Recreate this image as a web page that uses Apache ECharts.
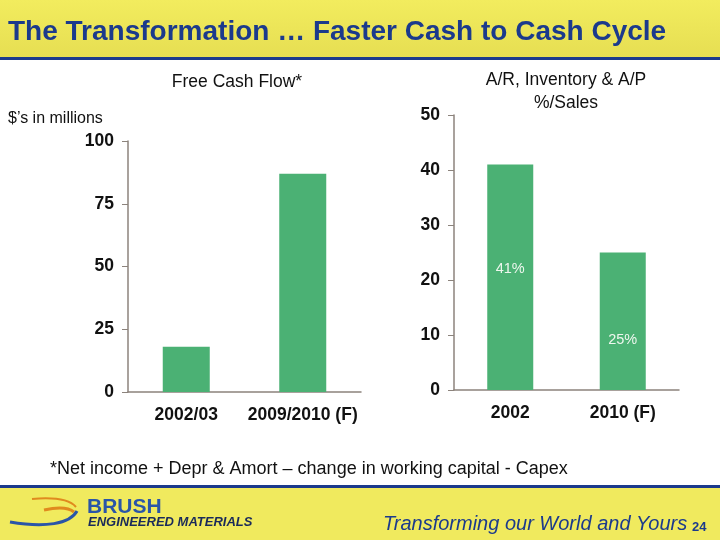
<!DOCTYPE html>
<html>
<head>
<meta charset="utf-8">
<script src="https://cdn.jsdelivr.net/npm/echarts@6/dist/echarts.min.js"></script>
<style>
  html, body { margin: 0; padding: 0; background: #fff; }
  #main { width: 720px; height: 540px; }
</style>
</head>
<body>
<div id="main"></div>
<script>
// Free Cash Flow ($ millions)
var fcfCategories = ['2002/03', '2009/2010 (F)'];
var fcfValues = [18, 87];
// A/R, Inventory & A/P as % of sales
var wcCategories = ['2002', '2010 (F)'];
var wcValues = [41, 25];
var wcLabels = ['41%', '25%'];

var barColor = '#4BB174';
var axisColor = '#8C837C';
var navy = '#1B3A8C';
var font = 'Arial, "Liberation Sans", sans-serif';

var chart = echarts.init(document.getElementById('main'));

function catAxis(idx, data) {
  return {
    type: 'category', gridIndex: idx, data: data,
    axisLine: { lineStyle: { color: axisColor, width: 1.5 } },
    axisTick: { length: 6, lineStyle: { color: axisColor } },
    axisLabel: { interval: 0, hideOverlap: false, color: '#111', fontSize: 17.5,
      fontFamily: font, fontWeight: 'bold', margin: 14 }
  };
}
function valAxis(idx, max, step) {
  return {
    type: 'value', gridIndex: idx, min: 0, max: max, interval: step,
    splitLine: { show: false },
    axisLine: { show: true, lineStyle: { color: axisColor, width: 1.5 } },
    axisTick: { show: true, length: 6, lineStyle: { color: axisColor } },
    axisLabel: { color: '#111', fontSize: 17.5, fontFamily: font, fontWeight: 'bold', margin: 14 }
  };
}

var option = {
  backgroundColor: '#fff',
  animation: false,
  textStyle: { fontFamily: font },
  graphic: [
    // top band
    { type: 'rect', shape: { x: 0, y: 0, width: 720, height: 58 }, silent: true,
      style: { fill: new echarts.graphic.LinearGradient(0, 0, 0, 1, [
        { offset: 0, color: '#F2EC5E' }, { offset: 1, color: '#E6DE52' }]) } },
    { type: 'rect', shape: { x: 0, y: 57, width: 720, height: 3 }, style: { fill: navy } },
    { type: 'text', x: 8, y: 32, style: { text: 'The Transformation \u2026 Faster Cash to Cash Cycle',
      fill: navy, font: 'bold 28px ' + font, verticalAlign: 'middle' } },
    // bottom band
    { type: 'rect', shape: { x: 0, y: 486, width: 720, height: 54 }, silent: true,
      style: { fill: '#F0EA5E' } },
    { type: 'rect', shape: { x: 0, y: 485, width: 720, height: 3 }, style: { fill: navy } },
    // logo swoosh
    { type: 'bezierCurve', shape: { x1: 32, y1: 499, x2: 76, y2: 507, cpx1: 55, cpy1: 497, cpx2: 70, cpy2: 500 },
      style: { stroke: '#E08A1E', lineWidth: 2, fill: null } },
    { type: 'bezierCurve', shape: { x1: 44, y1: 510, x2: 74, y2: 512, cpx1: 58, cpy1: 507, cpx2: 68, cpy2: 507 },
      style: { stroke: '#E08A1E', lineWidth: 3, fill: null } },
    { type: 'bezierCurve', shape: { x1: 10, y1: 522, x2: 77, y2: 511, cpx1: 45, cpy1: 528, cpx2: 70, cpy2: 524 },
      style: { stroke: '#2A55A8', lineWidth: 3, fill: null } },
    { type: 'text', x: 87, y: 497, style: { text: 'BRUSH', fill: '#2A55A8', font: 'bold 21px ' + font } },
    { type: 'text', x: 88, y: 516, style: { text: 'ENGINEERED MATERIALS', fill: '#1a2a5a',
      font: 'italic bold 13px ' + font } },
    { type: 'text', x: 383, y: 524, style: { text: 'Transforming our World and Yours',
      fill: navy, font: 'italic 20px ' + font, verticalAlign: 'middle' } },
    { type: 'text', x: 692, y: 527, style: { text: '24', fill: navy, font: 'bold 13px ' + font,
      verticalAlign: 'middle' } },
    // texts
    { type: 'text', x: 237, y: 82, style: { text: 'Free Cash Flow*', fill: '#111', font: '17.5px ' + font,
      align: 'center', verticalAlign: 'middle' } },
    { type: 'text', x: 8, y: 119, style: { text: '$\u2019s in millions', fill: '#111', font: '16px ' + font,
      verticalAlign: 'middle' } },
    { type: 'text', x: 566, y: 80, style: { text: 'A/R, Inventory & A/P', fill: '#111',
      font: '17.5px ' + font, align: 'center', verticalAlign: 'middle' } },
    { type: 'text', x: 566, y: 103, style: { text: '%/Sales', fill: '#111',
      font: '17.5px ' + font, align: 'center', verticalAlign: 'middle' } },
    { type: 'text', x: 50, y: 469, style: { text: '*Net income + Depr & Amort \u2013 change in working capital - Capex',
      fill: '#111', font: '18px ' + font, verticalAlign: 'middle' } }
  ],
  grid: [
    { left: 128, top: 141, width: 233, height: 251 },
    { left: 454, top: 115, width: 225, height: 275 }
  ],
  xAxis: [catAxis(0, fcfCategories), catAxis(1, wcCategories)],
  yAxis: [valAxis(0, 100, 25), valAxis(1, 50, 10)],
  series: [
    { type: 'bar', xAxisIndex: 0, yAxisIndex: 0, data: fcfValues, barWidth: 47,
      itemStyle: { color: barColor } },
    { type: 'bar', xAxisIndex: 1, yAxisIndex: 1, barWidth: 46,
      itemStyle: { color: barColor },
      data: wcValues.map(function (v, i) {
        return { value: v, label: { show: true, position: 'inside', formatter: wcLabels[i],
          offset: [0, i === 0 ? -8 : 19], color: '#EEF7EE', fontSize: 14.5, fontFamily: font } };
      }) }
  ]
};

chart.setOption(option);
</script>
</body>
</html>
